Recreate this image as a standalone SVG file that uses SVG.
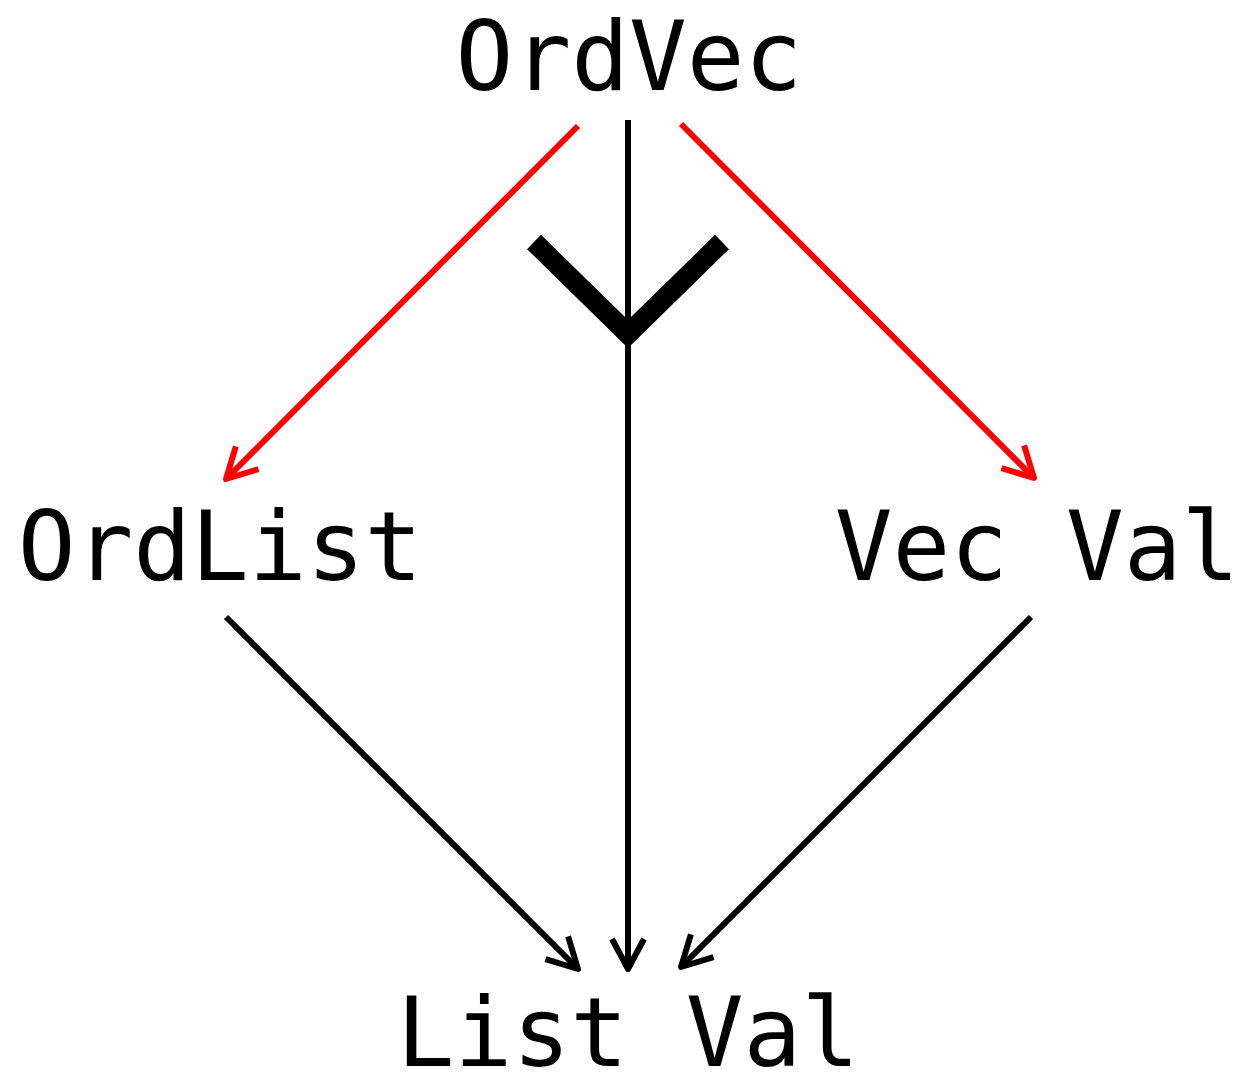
<svg xmlns="http://www.w3.org/2000/svg" width="1245" height="1074" viewBox="0 0 1245 1074">
<style>
text{font-family:"DejaVu Sans Mono","Liberation Mono",monospace;font-size:96px;fill:#000;text-anchor:middle}
.e{fill:none;stroke-width:6}
.k{stroke:#000}
.r{stroke:#ff0000}
</style>
<defs>
<marker id="ak" markerUnits="userSpaceOnUse" markerWidth="60" markerHeight="60" refX="0" refY="0" viewBox="-40 -30 50 60" orient="auto" overflow="visible">
<path d="M-30,-16 L0,0 L-30,16" fill="none" stroke="#000" stroke-width="6" stroke-linejoin="round"/>
</marker>
<marker id="ar" markerUnits="userSpaceOnUse" markerWidth="60" markerHeight="60" refX="0" refY="0" viewBox="-40 -30 50 60" orient="auto" overflow="visible">
<path d="M-30,-16 L0,0 L-30,16" fill="none" stroke="#ff0000" stroke-width="6" stroke-linejoin="round"/>
</marker>
</defs>
<g id="connectors">
<line class="e r" x1="578" y1="126" x2="226" y2="479" marker-end="url(#ar)"/>
<line class="e r" x1="681" y1="124" x2="1034" y2="478" marker-end="url(#ar)"/>
<line class="e k" x1="628" y1="120" x2="628" y2="969" marker-end="url(#ak)"/>
<path d="M534,242 L628,334 L722,242" fill="none" stroke="#000" stroke-width="20"/>
<line class="e k" x1="226" y1="617" x2="578" y2="969" marker-end="url(#ak)"/>
<line class="e k" x1="1031" y1="617" x2="681" y2="967" marker-end="url(#ak)"/>
</g>
<g id="OrdVec"><text x="629" y="90">OrdVec</text></g>
<g id="OrdList"><text x="220" y="580">OrdList</text></g>
<g id="VecVal"><text x="1037" y="580">Vec Val</text></g>
<g id="ListVal"><text x="628" y="1066">List Val</text></g>
</svg>
